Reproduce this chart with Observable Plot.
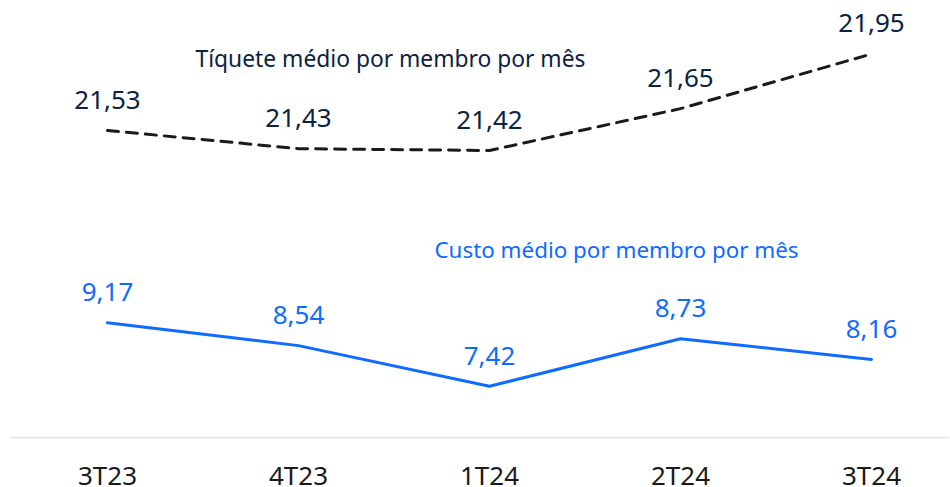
<!DOCTYPE html>
<html>
<head>
<meta charset="utf-8">
<script src="https://cdn.jsdelivr.net/npm/d3@7"></script>
<script src="https://cdn.jsdelivr.net/npm/@observablehq/plot@0.6"></script>
<style>
  html, body { margin: 0; padding: 0; background: #fff; }
  #chart { position: relative; width: 950px; height: 487px; }
  #chart svg { position: absolute; left: 0; top: 0; }
</style>
</head>
<body>
<div id="chart"></div>
<script>
const quarters = ["3T23", "4T23", "1T24", "2T24", "3T24"];
const ticketValues = [21.53, 21.43, 21.42, 21.65, 21.95];
const costValues = [9.17, 8.54, 7.42, 8.73, 8.16];
const ticketTitle = "Tíquete médio por membro por mês";
const costTitle = "Custo médio por membro por mês";

const ticketData = quarters.map((q, i) => ({q, v: ticketValues[i]}));
const costData = quarters.map((q, i) => ({q, v: costValues[i]}));
const fmt = d => d.v.toFixed(2).replace(".", ",");

const FONT = "'Noto Sans', sans-serif";
const BLUE = "#0f6bff";
const NAVY = "#0b2340";

const common = {
  width: 950,
  height: 487,
  marginLeft: 10,
  marginRight: 2,
  marginTop: 0,
  marginBottom: 50,
  style: {fontFamily: FONT, background: "transparent", overflow: "visible"},
  x: {type: "point", domain: quarters, range: [106, 872], padding: 0}
};

const costPlot = Plot.plot({
  ...common,
  y: {domain: [7.42, 9.17], range: [385.7, 322.3], axis: null},
  marks: [
    Plot.frame({anchor: "bottom", stroke: "#e4e4e4", strokeWidth: 1.5}),
    Plot.axisX({tickSize: 0, tickPadding: 29, fontSize: 26, color: "#1a1a1a", label: null}),
    Plot.line(costData, {x: "q", y: "v", stroke: BLUE, strokeWidth: 3}),
    Plot.text(costData, {x: "q", y: "v", text: fmt, dy: -30, fontSize: 26, fill: BLUE}),
    Plot.text([costTitle], {frameAnchor: "top-left", dx: 606, dy: 257, lineAnchor: "bottom", textAnchor: "middle", fontSize: 22.4, fill: BLUE})
  ]
});

const ticketPlot = Plot.plot({
  ...common,
  y: {domain: [21.42, 21.95], range: [150, 53.5], axis: null},
  x: {...common.x, axis: null},
  marks: [
    Plot.line(ticketData, {x: "q", y: "v", stroke: "#1a1a1a", strokeWidth: 3, strokeDasharray: "11,8"}),
    Plot.text(ticketData, {x: "q", y: "v", text: fmt, dy: -30, fontSize: 26, fill: NAVY}),
    Plot.text([ticketTitle], {frameAnchor: "top-left", dx: 380, dy: 66, lineAnchor: "bottom", textAnchor: "middle", fontSize: 22.8, fill: NAVY})
  ]
});

const el = document.getElementById("chart");
el.appendChild(costPlot);
el.appendChild(ticketPlot);
</script>
</body>
</html>
